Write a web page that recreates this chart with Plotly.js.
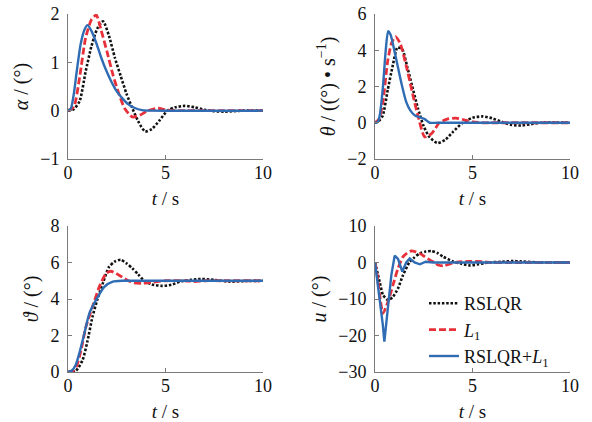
<!DOCTYPE html>
<html>
<head>
<meta charset="utf-8">
<script src="https://cdn.plot.ly/plotly-3.0.1.min.js"></script>
<style>
html,body{margin:0;padding:0;background:#fff}
#chart{width:592px;height:422px}
</style>
</head>
<body>
<div id="chart"></div>
<script>
// Series names
const seriesNames = ["RSLQR", "<i>L</i><sub>1</sub>", "RSLQR+<i>L</i><sub>1</sub>"];

// Panel 1: alpha (deg)
const alphaRsT = [0,0.3,0.6,0.9,1.2,1.5,1.8,2.1,2.4,2.7,3.0,3.3,3.6,3.95,4.3,4.7,5.1,5.5,6.0,6.5,7.0,7.5,8.0,8.5,9,10];
const alphaRsV = [0,0.03,0.2,0.8,1.33,1.7,1.85,1.55,1.1,0.72,0.35,0.05,-0.22,-0.43,-0.38,-0.2,0.0,0.07,0.1,0.07,0.02,-0.01,-0.02,-0.01,0,0];
const alphaL1T = [0,0.3,0.6,0.9,1.2,1.45,1.7,2.0,2.3,2.6,2.9,3.3,3.7,4.1,4.6,5.1,6,7,8,10];
const alphaL1V = [0,0.08,0.7,1.5,1.88,1.98,1.66,1.22,0.75,0.36,0.05,-0.13,-0.09,0.0,0.05,0.01,0,0,0,0];
const alphaBothT = [0,0.15,0.3,0.45,0.65,0.85,1.0,1.2,1.45,1.7,1.95,2.2,2.5,2.8,3.1,3.4,3.8,4.2,10];
const alphaBothV = [0,0.05,0.35,0.82,1.38,1.68,1.77,1.65,1.40,1.1,0.84,0.62,0.4,0.25,0.13,0.06,0.01,0,0];

// Panel 2: theta rate (deg/s)
const qRsT = [0,0.2,0.4,0.65,0.9,1.15,1.4,1.65,1.9,2.2,2.5,2.8,3.2,3.6,4.0,4.5,5.0,5.5,6.0,6.5,7.0,7.5,8.0,8.5,10];
const qRsV = [0,0.1,0.4,1.8,3.1,4.15,4.05,3.1,2.05,0.8,-0.2,-0.8,-1.12,-0.95,-0.5,0.0,0.28,0.35,0.25,0.05,-0.12,-0.15,-0.08,0,0];
const qL1T = [0,0.2,0.4,0.65,0.85,1.05,1.3,1.6,1.95,2.2,2.55,2.9,3.3,3.7,4.15,4.6,5.0,5.5,6,10];
const qL1V = [0,0.2,1.1,3.4,4.4,4.75,4.35,3.15,1.5,0.4,-0.78,-0.6,0.0,0.2,0.26,0.15,0.05,0,0,0];
const qBothT = [0,0.15,0.25,0.4,0.55,0.67,0.8,0.95,1.1,1.35,1.6,1.8,2.05,2.3,2.55,2.8,3.2,10];
const qBothV = [0,0.05,0.45,1.9,4.0,5.05,4.85,4.2,3.45,2.2,1.15,0.7,0.4,0.3,0.2,0.0,0,0];

// Panel 3: pitch angle (deg)
const pRsT = [0,0.4,0.75,1.0,1.25,1.5,1.8,2.1,2.4,2.7,3.0,3.3,3.6,3.9,4.3,4.8,5.3,5.8,6.3,6.8,7.5,8.3,9,10];
const pRsV = [0,0.06,0.66,1.7,3.0,3.95,4.9,5.75,6.05,6.15,5.95,5.68,5.35,5.0,4.8,4.72,4.78,4.97,5.05,5.1,5.05,4.95,4.98,5.0];
const pL1T = [0,0.25,0.45,0.67,0.92,1.25,1.6,1.95,2.2,2.6,3.0,3.4,3.8,4.3,5,6,6.5,7,8,10];
const pL1V = [0,0.05,0.35,1.2,2.48,3.55,4.65,5.4,5.52,5.32,5.05,4.88,4.86,4.92,5.0,5.0,4.95,5.0,5.0,5.0];
const pBothT = [0,0.2,0.4,0.58,0.84,1.09,1.44,1.86,2.3,2.8,3.5,10];
const pBothV = [0,0.08,0.4,1.02,2.12,3.2,3.95,4.67,4.95,5.0,5.0,5.0];

// Panel 4: control u (deg)
const uRsT = [0,0.24,0.41,0.67,0.92,1.18,1.44,1.78,2.0,2.29,2.6,2.89,3.2,3.49,4.0,4.4,4.85,5.3,5.8,6.5,7.0,7.5,8.5,10];
const uRsV = [0,-5.3,-8.9,-10.3,-9.4,-7.1,-3.4,0.2,1.3,2.5,3.0,3.15,2.6,1.6,0.3,-0.3,-0.8,-0.5,0,0.2,0.4,0.3,0,0];
const uL1T = [0,0.1,0.24,0.41,0.67,0.92,1.18,1.44,1.65,1.86,2.05,2.29,2.55,2.8,3.05,3.23,3.5,3.85,4.2,4.8,5.5,6,7,10];
const uL1V = [0,-3,-8.9,-13.9,-10.7,-6.2,-1.6,1.6,2.6,3.15,3.0,2.5,1.6,0.7,0,-0.7,-0.9,-0.4,0.1,0.3,0.2,0,0,0];
const uBothT = [0,0.15,0.32,0.4,0.48,0.58,0.67,0.84,1.01,1.18,1.4,1.6,1.78,2.03,2.3,2.6,3.0,10];
const uBothV = [0,-6.2,-13.5,-17,-21.7,-17,-12.5,-3.4,1.87,1.0,-2.5,0,1.1,0,-0.5,0.2,0,0];

// Axis settings
const xTicks = [0,5,10];
const y1Ticks = [-1,0,1,2];
const y2Ticks = [-2,0,2,4,6];
const y3Ticks = [0,2,4,6,8];
const y4Ticks = [-30,-20,-10,0,10];

const styles = [
  {color:'#111111', width:2.6, dash:'2.5px,1.8px'},
  {color:'#e8303a', width:2.8, dash:'7px,3px'},
  {color:'#2f6cb4', width:2.4, dash:'solid'}
];

const panels = [
  {xa:'x', ya:'y', data:[[alphaRsT,alphaRsV],[alphaL1T,alphaL1V],[alphaBothT,alphaBothV]]},
  {xa:'x2', ya:'y2', data:[[qRsT,qRsV],[qL1T,qL1V],[qBothT,qBothV]]},
  {xa:'x3', ya:'y3', data:[[pRsT,pRsV],[pL1T,pL1V],[pBothT,pBothV]]},
  {xa:'x4', ya:'y4', data:[[uRsT,uRsV],[uL1T,uL1V],[uBothT,uBothV]]}
];

const traces = [];
panels.forEach((p, pi) => {
  p.data.forEach((d, si) => {
    traces.push({
      x: d[0], y: d[1], xaxis: p.xa, yaxis: p.ya, type: 'scatter', mode: 'lines',
      name: seriesNames[si], showlegend: pi === 3,
      line: {color: styles[si].color, width: styles[si].width, dash: styles[si].dash,
             shape: (pi === 3 && si === 2) ? 'linear' : 'spline', smoothing: 0.6}
    });
  });
});

const serifFamily = 'Liberation Serif';
const gray = '#7a7a7a';
function makeX(domain, anchor) {
  return {domain: domain, anchor: anchor, range: [0,10], tickvals: xTicks, ticks: 'inside', ticklen: 4,
    tickcolor: gray, showline: true, linecolor: gray, linewidth: 1, showgrid: false, zeroline: false,
    tickfont: {family: serifFamily, size: 18}, ticklabelstandoff: -3,
    title: {text: '<i>t</i> / s', font: {family: serifFamily, size: 19}, standoff: 10}};
}
function makeY(domain, anchor, range, ticks, title) {
  return {domain: domain, anchor: anchor, range: range, tickvals: ticks, ticks: 'inside', ticklen: 4,
    tickcolor: gray, showline: true, linecolor: gray, linewidth: 1, showgrid: false, zeroline: false,
    tickfont: {family: serifFamily, size: 18}, ticklabelstandoff: 4,
    title: {text: title, font: {family: serifFamily, size: 20}, standoff: 6}};
}
const W = 592, H = 422;
const xd1 = [68/W, 263/W], xd2 = [375/W, 570/W];
const yd1 = [1-159/H, 1-14/H], yd2 = [1-372/H, 1-226/H];

const layout = {
  width: W, height: H, margin: {l:0, r:0, t:0, b:0},
  font: {family: serifFamily, size: 18, color: '#111111'},
  paper_bgcolor: '#ffffff', plot_bgcolor: '#ffffff',
  xaxis: makeX(xd1, 'y'), yaxis: makeY(yd1, 'x', [-1,2], y1Ticks, '<i>α</i> / (°)'),
  xaxis2: makeX(xd2, 'y2'), yaxis2: makeY(yd1, 'x2', [-2,6], y2Ticks, '<i>θ</i> / ((°) • s<sup>−1</sup>)'),
  xaxis3: makeX(xd1, 'y3'), yaxis3: makeY(yd2, 'x3', [0,8], y3Ticks, '<i>ϑ</i> / (°)'),
  xaxis4: makeX(xd2, 'y4'), yaxis4: makeY(yd2, 'x4', [-30,10], y4Ticks, '<i>u</i> / (°)'),
  showlegend: true,
  legend: {x: 424/W, y: 1-285/H, xanchor: 'left', yanchor: 'top', bgcolor: 'rgba(255,255,255,0)',
    font: {family: serifFamily, size: 18}}
};

Plotly.newPlot('chart', traces, layout, {displayModeBar: false, staticPlot: true});
</script>
</body>
</html>
